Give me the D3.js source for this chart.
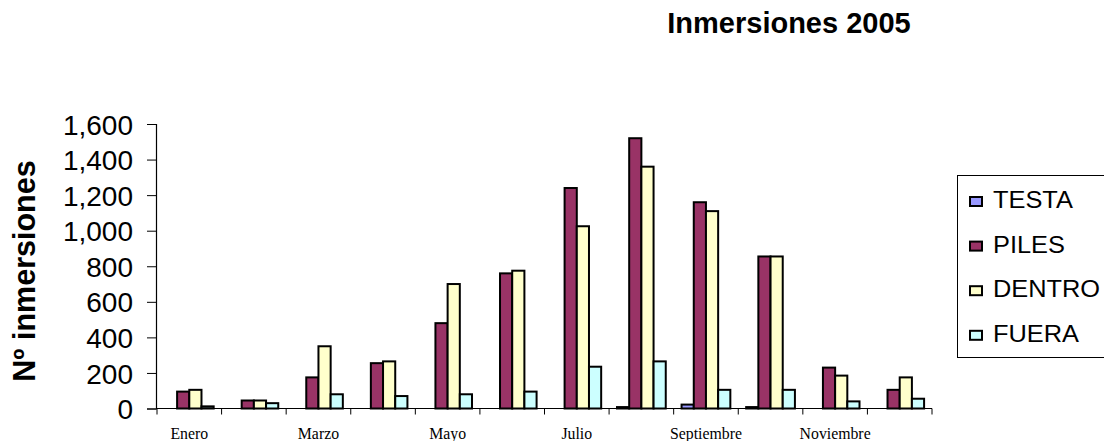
<!DOCTYPE html>
<html>
<head>
<meta charset="utf-8">
<script src="https://cdn.jsdelivr.net/npm/d3@7"></script>
<style>
  html, body { margin: 0; padding: 0; background: #fff; }
  svg { display: block; }
</style>
</head>
<body>
<svg id="chart" width="1104" height="441"></svg>
<script>
// Monthly dive counts for 2005, one array per series
const months = ["Enero", "Febrero", "Marzo", "Abril", "Mayo", "Junio",
                "Julio", "Agosto", "Septiembre", "Octubre", "Noviembre", "Diciembre"];
const seriesNames = ["TESTA", "PILES", "DENTRO", "FUERA"];
const testa  = [0, 0, 0, 0, 0, 0, 0, 8, 22, 8, 0, 0];
const piles  = [95, 45, 175, 255, 480, 760, 1240, 1520, 1160, 855, 230, 105];
const dentro = [105, 45, 350, 265, 700, 775, 1025, 1360, 1110, 855, 185, 175];
const fuera  = [12, 30, 80, 70, 80, 95, 235, 265, 105, 105, 40, 55];
const yTicks = [0, 200, 400, 600, 800, 1000, 1200, 1400, 1600];
const colors = ["#9999FF", "#993366", "#FFFFCC", "#CCFFFF"];

const seriesValues = [testa, piles, dentro, fuera];
const rows = months.map((m, i) => ({
  month: m,
  values: seriesNames.map((s, k) => ({ series: s, value: seriesValues[k][i], k }))
}));

const svg = d3.select("#chart");
const plot = { left: 157, right: 932, top: 124, bottom: 408.5 };
const sans = "Arial, 'Liberation Sans', sans-serif";

const x = d3.scaleBand()
  .domain(months)
  .range([plot.left, plot.right])
  .paddingInner(0.245)
  .paddingOuter(0.1225);

const xs = d3.scaleBand()
  .domain(seriesNames)
  .range([0, x.bandwidth()]);

const y = d3.scaleLinear()
  .domain([0, 1600])
  .range([plot.bottom, plot.top]);

// Bars
const groups = svg.append("g")
  .selectAll("g")
  .data(rows)
  .join("g")
  .attr("transform", d => `translate(${x(d.month)},0)`);

groups.selectAll("rect")
  .data(d => d.values.filter(v => v.value > 0))
  .join("rect")
  .attr("x", v => xs(v.series))
  .attr("y", v => y(v.value))
  .attr("width", xs.bandwidth())
  .attr("height", v => y(0) - y(v.value))
  .attr("fill", v => colors[v.k])
  .attr("stroke", "#000")
  .attr("stroke-width", 2);

// Y axis
const yAxis = svg.append("g")
  .attr("transform", `translate(${plot.left - 1},0)`)
  .call(d3.axisLeft(y).tickValues(yTicks).tickSize(9).tickPadding(14)
    .tickFormat(d3.format(",")));
yAxis.select(".domain").attr("stroke", "#000").attr("stroke-width", 1.2);
yAxis.selectAll(".tick line").attr("stroke", "#000");
yAxis.selectAll(".tick text")
  .attr("font-family", sans)
  .attr("font-size", 28)
  .attr("fill", "#000")
  .attr("dy", "0.36em");

// X axis: ticks at category boundaries, labels on every other month
const step = x.step();
const boundaries = d3.range(months.length + 1).map(i => plot.left + i * step);
const xAxis = svg.append("g");
xAxis.append("line")
  .attr("x1", plot.left - 1).attr("x2", plot.right)
  .attr("y1", plot.bottom).attr("y2", plot.bottom)
  .attr("stroke", "#000").attr("stroke-width", 1.2);
xAxis.selectAll("line.tick")
  .data(boundaries)
  .join("line")
  .attr("class", "tick")
  .attr("x1", d => d).attr("x2", d => d)
  .attr("y1", plot.bottom).attr("y2", plot.bottom + 6)
  .attr("stroke", "#000");
xAxis.selectAll("text")
  .data(months.filter((m, i) => i % 2 === 0))
  .join("text")
  .attr("x", d => x(d) + x.bandwidth() / 2)
  .attr("y", 439)
  .attr("text-anchor", "middle")
  .attr("font-family", "'Liberation Serif', 'Times New Roman', serif")
  .attr("font-size", 15.8)
  .attr("fill", "#000")
  .text(d => d);

// Axis title
svg.append("text")
  .attr("transform", "translate(35,271) rotate(-90)")
  .attr("text-anchor", "middle")
  .attr("font-family", sans)
  .attr("font-weight", "bold")
  .attr("font-size", 30.5)
  .attr("fill", "#000")
  .text("Nº inmersiones");

// Chart title
svg.append("text")
  .attr("x", 789)
  .attr("y", 33)
  .attr("text-anchor", "middle")
  .attr("font-family", sans)
  .attr("font-weight", "bold")
  .attr("font-size", 29)
  .attr("fill", "#000")
  .text("Inmersiones 2005");

// Legend
const legend = svg.append("g");
legend.append("rect")
  .attr("x", 957.5).attr("y", 175.5)
  .attr("width", 160).attr("height", 182)
  .attr("fill", "#fff").attr("stroke", "#000").attr("stroke-width", 1);
const items = legend.selectAll("g.item")
  .data(seriesNames)
  .join("g")
  .attr("class", "item")
  .attr("transform", (d, i) => `translate(0,${208 + i * 44.6})`);
items.append("rect")
  .attr("x", 970).attr("y", -11)
  .attr("width", 12).attr("height", 9)
  .attr("fill", (d, i) => colors[i])
  .attr("stroke", "#000").attr("stroke-width", 2);
items.append("text")
  .attr("transform", "translate(993,0) scale(1.08,1)")
  .attr("font-family", sans)
  .attr("font-size", 23.5)
  .attr("fill", "#000")
  .text(d => d);
</script>
</body>
</html>
